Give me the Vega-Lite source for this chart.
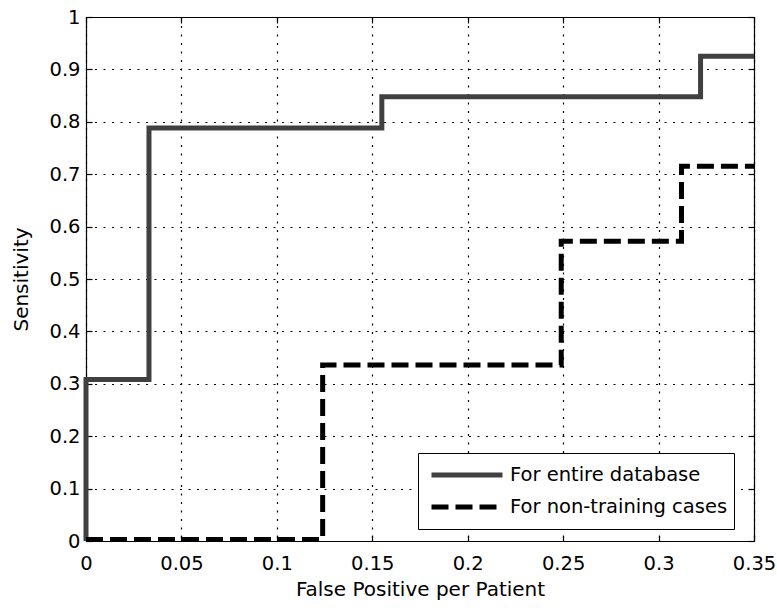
{
  "$schema": "https://vega.github.io/schema/vega-lite/v6.json",
  "width": 668,
  "height": 524,
  "autosize": {"type": "none"},
  "padding": {"left": 86, "top": 17, "right": 23, "bottom": 67},
  "background": "white",
  "config": {"view": {"stroke": null}, "font": "DejaVu Sans"},
  "data": {
    "values": [
      {"series": "For entire database", "i": 0, "fpp": 0, "sens": 0},
      {"series": "For entire database", "i": 1, "fpp": 0, "sens": 0.308},
      {"series": "For entire database", "i": 2, "fpp": 0.033, "sens": 0.788},
      {"series": "For entire database", "i": 3, "fpp": 0.155, "sens": 0.848},
      {"series": "For entire database", "i": 4, "fpp": 0.322, "sens": 0.925},
      {"series": "For entire database", "i": 5, "fpp": 0.35, "sens": 0.925},
      {"series": "For non-training cases", "i": 0, "fpp": 0, "sens": 0.003},
      {"series": "For non-training cases", "i": 1, "fpp": 0.124, "sens": 0.336},
      {"series": "For non-training cases", "i": 2, "fpp": 0.249, "sens": 0.572},
      {"series": "For non-training cases", "i": 3, "fpp": 0.312, "sens": 0.715},
      {"series": "For non-training cases", "i": 4, "fpp": 0.35, "sens": 0.715}
    ]
  },
  "layer": [
    {
      "mark": {"type": "line", "interpolate": "step-after", "strokeWidth": 5, "strokeCap": "butt", "strokeJoin": "miter", "clip": false},
      "encoding": {
        "x": {
          "field": "fpp", "type": "quantitative",
          "scale": {"domain": [0, 0.35], "nice": false, "zero": false},
          "axis": {
            "orient": "bottom", "values": [0, 0.05, 0.1, 0.15, 0.2, 0.25, 0.3, 0.35], "format": ".2~f",
            "grid": true, "gridDash": [2, 6.5], "gridColor": "black", "gridWidth": 1.2, "gridOpacity": 1,
            "tickSize": -6, "tickColor": "black", "tickWidth": 1.2, "domainColor": "black", "domainWidth": 1.2,
            "labelFontSize": 19.5, "labelColor": "black", "labelPadding": 19, "labelFlush": false, "labelOverlap": false,
            "title": "False Positive per Patient", "titleFontSize": 20, "titleFontWeight": "normal", "titleColor": "black", "titlePadding": 7
          }
        },
        "y": {
          "field": "sens", "type": "quantitative",
          "scale": {"domain": [0, 1], "nice": false},
          "axis": {
            "orient": "left", "values": [0, 0.1, 0.2, 0.3, 0.4, 0.5, 0.6, 0.7, 0.8, 0.9, 1], "format": ".1~f",
            "grid": true, "gridDash": [2, 6.5], "gridColor": "black", "gridWidth": 1.2, "gridOpacity": 1,
            "tickSize": -6, "tickColor": "black", "tickWidth": 1.2, "domainColor": "black", "domainWidth": 1.2,
            "labelFontSize": 19.5, "labelColor": "black", "labelPadding": 12, "labelFlush": false, "labelOverlap": false,
            "title": "Sensitivity", "titleFontSize": 20, "titleFontWeight": "normal", "titleColor": "black", "titlePadding": 17
          }
        },
        "color": {
          "field": "series", "type": "nominal",
          "scale": {"domain": ["For entire database", "For non-training cases"], "range": ["#404040", "#000000"]},
          "legend": {
            "title": null, "orient": "none", "legendX": 332, "legendY": 436,
            "symbolType": "stroke", "symbolSize": 5041, "symbolStrokeWidth": 5, "clipHeight": 32,
            "padding": 6, "strokeColor": "black", "fillColor": "white", "cornerRadius": 0,
            "labelFont": "DejaVu Sans", "labelFontSize": 19.5, "labelColor": "black", "labelLimit": 400,
            "symbolOffset": 5, "labelOffset": 5, "rowPadding": 0
          }
        },
        "strokeDash": {
          "field": "series", "type": "nominal",
          "scale": {"domain": ["For entire database", "For non-training cases"], "range": [[1, 0], [17, 7]]},
          "legend": {
            "title": null, "orient": "none", "legendX": 332, "legendY": 436,
            "symbolType": "stroke", "symbolSize": 5041, "symbolStrokeWidth": 5, "clipHeight": 32,
            "padding": 6, "strokeColor": "black", "fillColor": "white", "cornerRadius": 0,
            "labelFont": "DejaVu Sans", "labelFontSize": 19.5, "labelColor": "black", "labelLimit": 400,
            "symbolOffset": 5, "labelOffset": 5, "rowPadding": 0
          }
        },
        "order": {"field": "i", "type": "quantitative"}
      }
    },
    {
      "mark": {"type": "line", "strokeOpacity": 0, "clip": false},
      "encoding": {
        "x": {
          "field": "fpp", "type": "quantitative",
          "scale": {"domain": [0, 0.35], "nice": false, "zero": false},
          "axis": {
            "orient": "top", "values": [0, 0.05, 0.1, 0.15, 0.2, 0.25, 0.3, 0.35],
            "grid": false, "labels": false, "title": null,
            "tickSize": -6, "tickColor": "black", "tickWidth": 1.2, "domainColor": "black", "domainWidth": 1.2
          }
        },
        "y": {
          "field": "sens", "type": "quantitative",
          "scale": {"domain": [0, 1], "nice": false},
          "axis": {
            "orient": "right", "values": [0, 0.1, 0.2, 0.3, 0.4, 0.5, 0.6, 0.7, 0.8, 0.9, 1],
            "grid": false, "labels": false, "title": null,
            "tickSize": -6, "tickColor": "black", "tickWidth": 1.2, "domainColor": "black", "domainWidth": 1.2
          }
        },
        "detail": {"field": "series", "type": "nominal"},
        "order": {"field": "i", "type": "quantitative"}
      }
    }
  ],
  "resolve": {"axis": {"x": "independent", "y": "independent"}}
}
